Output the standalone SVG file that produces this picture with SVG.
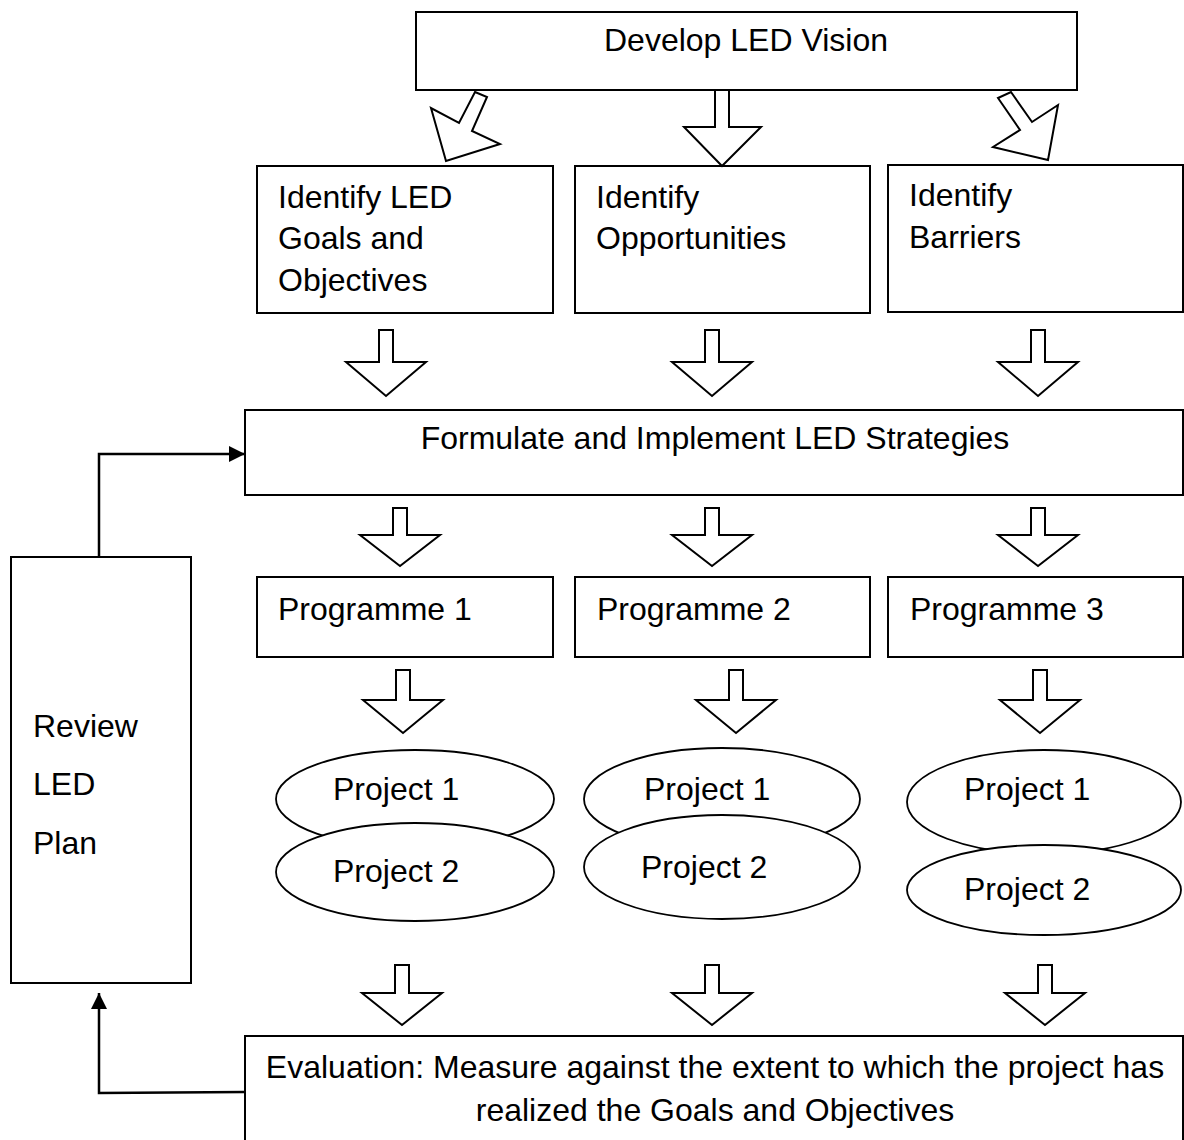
<svg xmlns="http://www.w3.org/2000/svg" width="1184" height="1140" viewBox="0 0 1184 1140">
<defs>
<style>
.box{fill:#fff;stroke:#000;stroke-width:2}
.ell{fill:#fff;stroke:#000;stroke-width:1.8}
.barrow{fill:#fff;stroke:#000;stroke-width:2;stroke-linejoin:miter}
.t{font-family:"Liberation Sans",Arial,sans-serif;font-size:32px;fill:#000}
.m{text-anchor:middle}
.conn{fill:none;stroke:#000;stroke-width:2.5}
</style>
<marker id="ah" markerWidth="16" markerHeight="16" refX="16" refY="8" orient="auto" markerUnits="userSpaceOnUse">
<path d="M0,0 L16,8 L0,16 Z" fill="#000"/>
</marker>
</defs>
<rect width="1184" height="1140" fill="#fff"/>

<g id="vision">
<rect class="box" x="416" y="12" width="661" height="78"/>
<text class="t m" x="746" y="51">Develop LED Vision</text>
</g>

<g id="goals">
<rect class="box" x="257" y="166" width="296" height="147"/>
<text class="t" x="278" y="208">Identify LED</text>
<text class="t" x="278" y="249">Goals and</text>
<text class="t" x="278" y="291">Objectives</text>
</g>
<g id="opportunities">
<rect class="box" x="575" y="166" width="295" height="147"/>
<text class="t" x="596" y="208">Identify</text>
<text class="t" x="596" y="249">Opportunities</text>
</g>
<g id="barriers">
<rect class="box" x="888" y="165" width="295" height="147"/>
<text class="t" x="909" y="206">Identify</text>
<text class="t" x="909" y="248">Barriers</text>
</g>

<g id="formulate">
<rect class="box" x="245" y="410" width="938" height="85"/>
<text class="t m" x="715" y="449">Formulate and Implement LED Strategies</text>
</g>

<g id="programme1">
<rect class="box" x="257" y="577" width="296" height="80"/>
<text class="t" x="278" y="620">Programme 1</text>
</g>
<g id="programme2">
<rect class="box" x="575" y="577" width="295" height="80"/>
<text class="t" x="597" y="620">Programme 2</text>
</g>
<g id="programme3">
<rect class="box" x="888" y="577" width="295" height="80"/>
<text class="t" x="910" y="620">Programme 3</text>
</g>

<g id="projects1">
<ellipse class="ell" cx="415" cy="799" rx="139" ry="49"/>
<text class="t" x="333" y="800">Project 1</text>
<ellipse class="ell" cx="415" cy="872" rx="139" ry="49"/>
<text class="t" x="333" y="882">Project 2</text>
</g>
<g id="projects2">
<ellipse class="ell" cx="722" cy="799" rx="138" ry="51"/>
<text class="t" x="644" y="800">Project 1</text>
<ellipse class="ell" cx="722" cy="867" rx="138" ry="52"/>
<text class="t" x="641" y="878">Project 2</text>
</g>
<g id="projects3">
<ellipse class="ell" cx="1044" cy="802" rx="137" ry="52"/>
<text class="t" x="964" y="800">Project 1</text>
<ellipse class="ell" cx="1044" cy="890" rx="137" ry="45"/>
<text class="t" x="964" y="900">Project 2</text>
</g>

<g id="review">
<rect class="box" x="11" y="557" width="180" height="426"/>
<text class="t" x="33" y="737">Review</text>
<text class="t" x="33" y="795">LED</text>
<text class="t" x="33" y="854">Plan</text>
</g>

<g id="evaluation">
<rect class="box" x="245" y="1036" width="938" height="110"/>
<text class="t m" x="715" y="1078">Evaluation: Measure against the extent to which the project has</text>
<text class="t m" x="715" y="1121">realized the Goals and Objectives</text>
</g>

<g id="connectors">
<polygon class="barrow" points="475,92 487,97 472,131 500,144 446,161 431,108 459,123"/>
<polygon class="barrow" points="715,90 729,90 729,127 761,127 722,166 684,127 715,127"/>
<polygon class="barrow" points="1011,92 1032,122 1058,105 1048,160 993,147 1020,130 998,98"/>

<polygon class="barrow" points="379,330 393,330 393,362 426,362 386,396 346,362 379,362"/>
<polygon class="barrow" points="705,330 719,330 719,362 752,362 712,396 672,362 705,362"/>
<polygon class="barrow" points="1031,330 1045,330 1045,362 1078,362 1038,396 998,362 1031,362"/>

<polygon class="barrow" points="393,508 407,508 407,535 440,535 400,566 360,535 393,535"/>
<polygon class="barrow" points="705,508 719,508 719,535 752,535 712,566 672,535 705,535"/>
<polygon class="barrow" points="1031,508 1045,508 1045,535 1078,535 1038,566 998,535 1031,535"/>

<polygon class="barrow" points="396,670 410,670 410,700 443,700 403,733 363,700 396,700"/>
<polygon class="barrow" points="729,670 743,670 743,700 776,700 736,733 696,700 729,700"/>
<polygon class="barrow" points="1033,670 1047,670 1047,700 1080,700 1040,733 1000,700 1033,700"/>

<polygon class="barrow" points="395,965 409,965 409,993 442,993 402,1025 362,993 395,993"/>
<polygon class="barrow" points="705,965 719,965 719,993 752,993 712,1025 672,993 705,993"/>
<polygon class="barrow" points="1038,965 1052,965 1052,993 1085,993 1045,1025 1005,993 1038,993"/>

<path class="conn" d="M99,557 V454 H245" marker-end="url(#ah)"/>
<path class="conn" d="M245,1092 L99,1093 V993" marker-end="url(#ah)"/>
</g>
</svg>
